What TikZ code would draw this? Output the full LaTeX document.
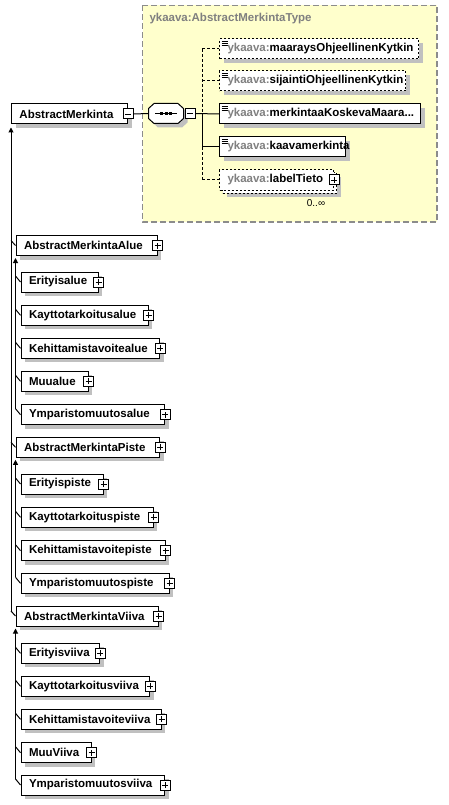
\documentclass[tikz,border=0pt]{standalone}
\usepackage{fontspec}
\setmainfont{Liberation Sans}
\usepackage{xcolor}
\usetikzlibrary{arrows.meta,shadows}

\definecolor{typefill}{RGB}{255,255,204}
\definecolor{typeline}{RGB}{140,140,140}
\definecolor{nsgray}{RGB}{128,128,128}
\definecolor{shadegray}{RGB}{192,192,192}
\hyphenpenalty=10000
\newcommand{\yk}{\textcolor{nsgray}{ykaava:}}

\tikzset{
  plain/.style={draw, fill=white, anchor=west, minimum height=20, inner xsep=8, inner ysep=0,
    align=left, font=\bfseries\fontsize{11.5}{13}\selectfont},
  boxshadow/.style={drop shadow={shadow xshift=4pt, shadow yshift=-4pt, fill=shadegray, opacity=1}},
  elem/.style={plain, boxshadow},
  opt/.style={dash pattern=on 2pt off 2pt},
  optline/.style={dash pattern=on 3pt off 2pt},
  simple/.style={path picture={\draw[solid, line width=0.8pt]
    ([shift={(2,2)}]path picture bounding box.north west) -- ++(6,0) ++(-6,2) -- ++(6,0) ++(-6,2) -- ++(6,0);}},
  pmbox/.style={draw, solid, fill=white, minimum size=10, inner sep=0},
  plusbox/.style={pmbox, path picture={\draw[line width=0.8pt]
    ([xshift=-3pt]path picture bounding box.center) -- ([xshift=3pt]path picture bounding box.center)
    ([yshift=-3pt]path picture bounding box.center) -- ([yshift=3pt]path picture bounding box.center);}},
  minusbox/.style={pmbox, path picture={\draw[line width=0.8pt]
    ([xshift=-3pt]path picture bounding box.center) -- ([xshift=3pt]path picture bounding box.center);}},
  ext/.style={-{Triangle[width=5pt,length=5pt]}},
}

\begin{document}
\begin{tikzpicture}[x=1pt, y=-1pt, line width=1pt]
\useasboundingbox (0,0) rectangle (448,805);

% complex type
\draw[typeline, fill=typefill, line width=1.5pt, dash pattern=on 6pt off 3pt] (142.5,5.5) rectangle (437,222);
\node[anchor=west, inner sep=0, font=\bfseries\fontsize{11.5}{13}\selectfont, text=nsgray] (tt) at (149,19) {ykaava:AbstractMerkintaType};

% root element and its sequence
\node[elem, text width=100] (am) at (11,114) {AbstractMerkinta};
\node[minusbox] (amm) at (am.east) {};
\node[minimum width=34, minimum height=19, inner sep=0] (seq) at (166,113.5) {};
\draw[fill=white, boxshadow] ([xshift=5.5pt]seq.north west) -- ([xshift=-5.5pt]seq.north east)
  -- ([yshift=-5pt]seq.north east) -- ([yshift=5pt]seq.south east) -- ([xshift=-5.5pt]seq.south east)
  -- ([xshift=5.5pt]seq.south west) -- ([yshift=5pt]seq.south west) -- ([yshift=-5pt]seq.north west) -- cycle;
\node[minusbox, anchor=west] (seqm) at ([xshift=1pt]seq.east) {};
\draw (seq.center) ++(-11,0) -- ++(22,0);
\fill ([xshift=-4.5pt]seq.center) +(-1.5,-1.5) rectangle +(1.5,1.5);
\fill (seq.center) +(-1.5,-1.5) rectangle +(1.5,1.5);
\fill ([xshift=4.5pt]seq.center) +(-1.5,-1.5) rectangle +(1.5,1.5);

\node[elem, opt, simple, text width=183] (c1) at (219,49) {\yk maaraysOhjeellinenKytkin};
\node[elem, opt, simple, text width=170] (c2) at (219,81) {\yk sijaintiOhjeellinenKytkin};
\node[elem, simple, text width=185] (c3) at (219,114) {\yk merkintaaKoskevaMaara...};
\node[elem, simple, text width=110] (c4) at (219,147) {\yk kaavamerkinta};
\node[elem, opt, minimum width=114, inner sep=0] (c5b) at (222,183) {};
\node[plain, opt, text width=98] (c5) at (219,180) {\yk labelTieto};
\node[plusbox] (c5p) at (c5.east) {};
\node[inner sep=0, font=\fontsize{10}{12}\selectfont] (occ) at (316,203) {0..∞};

\coordinate (jn) at (202,114);
\draw (amm.east) -- (seq.west);
\draw (seqm.east) -- (c3.west);
\draw[optline] (jn |- c1.west) -- (c1.west);
\draw[optline] (jn |- c2.west) -- (c2.west);
\draw (jn |- c4.west) -- (c4.west);
\draw[optline] (jn |- c5.west) -- (c5.west);
\draw[optline] (jn |- c1.west) -- (jn);
\draw (jn) -- (jn |- c4.west);
\draw[optline] (jn |- c4.west) -- (jn |- c5.west);

% derived types: Alue
\node[elem, text width=125] (ama) at (15.5,245.5) {AbstractMerkintaAlue};
\node[plusbox] (amap) at (ama.east) {};
\node[elem, text width=61] (era) at (20.5,282) {Erityisalue};
\node[plusbox] (erap) at (era.east) {};
\node[elem, text width=111] (kta) at (20.5,315.3) {Kayttotarkoitusalue};
\node[plusbox] (ktap) at (kta.east) {};
\node[elem, text width=122.5] (kea) at (20.5,348.3) {Kehittamistavoitealue};
\node[plusbox] (keap) at (kea.east) {};
\node[elem, text width=51] (mua) at (20.5,381.3) {Muualue};
\node[plusbox] (muap) at (mua.east) {};
\node[elem, text width=127.5] (yma) at (20.5,414.7) {Ymparistomuutosalue};
\node[plusbox] (ymap) at (yma.east) {};

% derived types: Piste
\node[elem, text width=127.5] (amp) at (15.5,447.3) {AbstractMerkintaPiste};
\node[plusbox] (ampp) at (amp.east) {};
\node[elem, text width=66] (erp) at (20.5,484) {Erityispiste};
\node[plusbox] (erpp) at (erp.east) {};
\node[elem, text width=116] (ktp) at (20.5,517.3) {Kayttotarkoituspiste};
\node[plusbox] (ktpp) at (ktp.east) {};
\node[elem, text width=128] (kep) at (20.5,550.7) {Kehittamistavoitepiste};
\node[plusbox] (kepp) at (kep.east) {};
\node[elem, text width=132] (ymp) at (20.5,583.3) {Ymparistomuutospiste};
\node[plusbox] (ympp) at (ymp.east) {};

% derived types: Viiva
\node[elem, text width=126] (amv) at (15.5,616) {AbstractMerkintaViiva};
\node[plusbox] (amvp) at (amv.east) {};
\node[elem, text width=62.5] (erv) at (20.5,653.3) {Erityisviiva};
\node[plusbox] (ervp) at (erv.east) {};
\node[elem, text width=112.5] (ktv) at (20.5,686.3) {Kayttotarkoitusviiva};
\node[plusbox] (ktvp) at (ktv.east) {};
\node[elem, text width=124] (kev) at (20.5,719.3) {Kehittamistavoiteviiva};
\node[plusbox] (kevp) at (kev.east) {};
\node[elem, text width=54] (muv) at (20.5,752.7) {MuuViiva};
\node[plusbox] (muvp) at (muv.east) {};
\node[elem, text width=127.5] (ymv) at (20.5,785) {Ymparistomuutosviiva};
\node[plusbox] (ymvp) at (ymv.east) {};

% extension lines
\draw[ext] ([yshift=5pt]amv.west -| am.west) -- ([yshift=-3pt]am.south west);
\draw ([yshift=5pt]ama.west -| am.west) -- (ama.west);
\draw ([yshift=5pt]amp.west -| am.west) -- (amp.west);
\draw ([yshift=5pt]amv.west -| am.west) -- (amv.west);

\draw[ext] ([yshift=6pt]yma.west -| ama.west) -- ([yshift=-2pt]ama.south west);
\draw ([yshift=6pt]era.west -| ama.west) -- (era.west);
\draw ([yshift=6pt]kta.west -| ama.west) -- (kta.west);
\draw ([yshift=6pt]kea.west -| ama.west) -- (kea.west);
\draw ([yshift=6pt]mua.west -| ama.west) -- (mua.west);
\draw ([yshift=6pt]yma.west -| ama.west) -- (yma.west);

\draw[ext] ([yshift=6pt]ymp.west -| amp.west) -- ([yshift=-2pt]amp.south west);
\draw ([yshift=6pt]erp.west -| amp.west) -- (erp.west);
\draw ([yshift=6pt]ktp.west -| amp.west) -- (ktp.west);
\draw ([yshift=6pt]kep.west -| amp.west) -- (kep.west);
\draw ([yshift=6pt]ymp.west -| amp.west) -- (ymp.west);

\draw[ext] ([yshift=6pt]ymv.west -| amv.west) -- ([yshift=-2pt]amv.south west);
\draw ([yshift=6pt]erv.west -| amv.west) -- (erv.west);
\draw ([yshift=6pt]ktv.west -| amv.west) -- (ktv.west);
\draw ([yshift=6pt]kev.west -| amv.west) -- (kev.west);
\draw ([yshift=6pt]muv.west -| amv.west) -- (muv.west);
\draw ([yshift=6pt]ymv.west -| amv.west) -- (ymv.west);
\end{tikzpicture}
\end{document}
